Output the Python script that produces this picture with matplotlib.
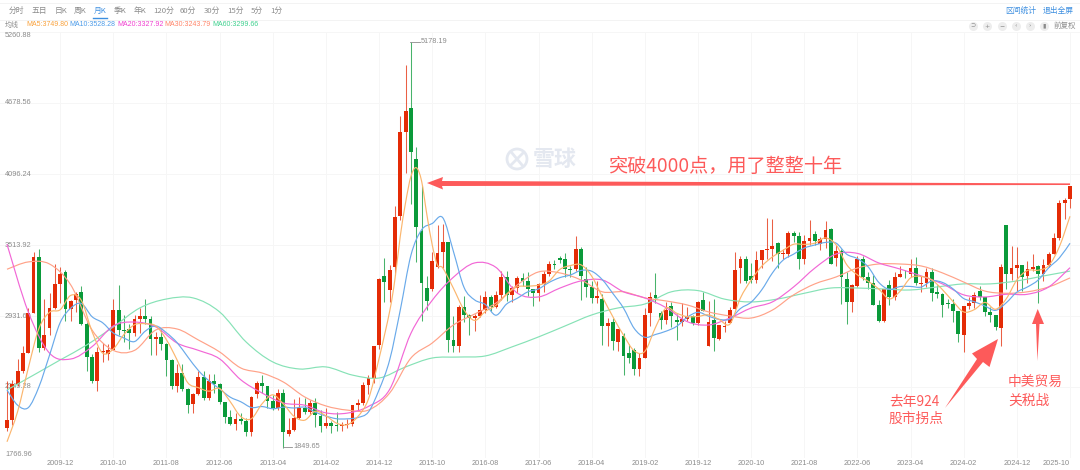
import numpy as np
import matplotlib
matplotlib.use("Agg")
import matplotlib.pyplot as plt
from matplotlib.patches import Polygon, Circle, PathPatch
from matplotlib.path import Path

plt.rcParams["font.family"] = ["Liberation Sans", "Noto Sans CJK SC", "DejaVu Sans"]
CJK = ["Noto Sans CJK SC", "DejaVu Sans"]

# monthly candles, 2009-02 .. 2025-10
opens = [
    2010, 2082, 2373, 2477, 2632, 2959, 3412, 2667, 2836, 2995,
    3195, 3289, 2989, 3060, 3125, 2870, 2592, 2398, 2637, 2622,
    2655, 2979, 2820, 2825, 2790, 2905, 2928, 2911, 2743, 2762,
    2701, 2567, 2359, 2468, 2333, 2212, 2292, 2428, 2262, 2396,
    2372, 2225, 2103, 2047, 2086, 2068, 1980, 2289, 2385, 2359,
    2236, 2177, 2300, 1965, 1994, 2098, 2174, 2141, 2220, 2112,
    2033, 2056, 2033, 2026, 2039, 2048, 2201, 2217, 2363, 2423,
    2694, 3258, 3148, 3333, 3748, 4441, 4640, 4220, 3628, 3160,
    3156, 3337, 3456, 3536, 2738, 2688, 3005, 2938, 2916, 2932,
    2979, 3085, 3004, 3100, 3250, 3103, 3159, 3241, 3222, 3154,
    3117, 3192, 3273, 3360, 3404, 3397, 3317, 3314, 3480, 3232,
    3168, 3082, 3075, 2847, 2882, 2720, 2769, 2630, 2650, 2497,
    2584, 2954, 3107, 2955, 2898, 3017, 2900, 2886, 2905, 2929,
    2876, 3066, 2685, 2899, 2742, 2840, 2874, 2991, 3325, 3395,
    3262, 3224, 3391, 3474, 3483, 3530, 3441, 3441, 3615, 3591,
    3397, 3544, 3608, 3520, 3563, 3649, 3407, 3462, 3232, 3047,
    3180, 3400, 3253, 3202, 3024, 2893, 3186, 3089, 3255, 3279,
    3272, 3323, 3195, 3205, 3291, 3125, 3110, 3036, 3029, 2972,
    2778, 3015, 3041, 3136, 3086, 2967, 2938, 2834, 3674, 3279,
    3326, 3351, 3262, 3320, 3345, 3279, 3347, 3444, 3573, 3857, 3890,
]
highs = [
    2402, 2403, 2579, 2688, 2998, 3454, 3478, 3068, 3123, 3361,
    3330, 3306, 3060, 3130, 3181, 2880, 2623, 2680, 2707, 2700,
    3071, 3186, 2940, 2862, 2940, 3000, 3067, 2935, 2797, 2826,
    2707, 2575, 2536, 2536, 2345, 2300, 2478, 2478, 2453, 2453,
    2382, 2227, 2158, 2134, 2133, 2092, 2276, 2398, 2444, 2360,
    2281, 2334, 2334, 2092, 2248, 2270, 2259, 2244, 2260, 2158,
    2177, 2074, 2146, 2062, 2088, 2202, 2249, 2391, 2450, 2683,
    3243, 3406, 3347, 3835, 4572, 4990, 5178.19, 4317, 4006, 3256,
    3457, 3678, 3684, 3538, 2934, 3018, 3097, 2952, 2945, 3100,
    3140, 3101, 3134, 3301, 3301, 3174, 3260, 3283, 3295, 3154,
    3200, 3302, 3379, 3391, 3426, 3450, 3338, 3587, 3495, 3334,
    3220, 3220, 3115, 2915, 2915, 2827, 2795, 2703, 2667, 2630,
    2997, 3129, 3288, 2970, 3044, 3048, 2945, 3042, 3003, 2936,
    3056, 3127, 3058, 3074, 2860, 2891, 3002, 3458, 3425, 3425,
    3364, 3466, 3475, 3732, 3731, 3537, 3481, 3625, 3629, 3620,
    3600, 3723, 3631, 3581, 3708, 3650, 3511, 3483, 3296, 3195,
    3424, 3424, 3290, 3264, 3065, 3155, 3226, 3290, 3340, 3310,
    3396, 3418, 3256, 3322, 3322, 3189, 3120, 3072, 3072, 2976,
    3015, 3090, 3125, 3174, 3090, 3004, 2939, 3358, 3674, 3509,
    3494, 3351, 3380, 3440, 3350, 3400, 3460, 3610, 3880, 3900, 3998,
]
lows = [
    1990, 2037, 2360, 2461, 2632, 2959, 2639, 2650, 2776, 2985,
    3039, 2890, 2890, 2966, 2861, 2481, 2382, 2319, 2558, 2573,
    2652, 2774, 2722, 2661, 2767, 2791, 2866, 2610, 2610, 2650,
    2437, 2331, 2307, 2319, 2134, 2132, 2283, 2242, 2242, 2300,
    2210, 2058, 2039, 1999, 2045, 1949, 1949, 2260, 2300, 2181,
    2161, 2164, 1849.65, 1950, 1990, 2086, 2127, 2125, 2024, 1984,
    2014, 1974, 1986, 1991, 2010, 2032, 2152, 2200, 2290, 2380,
    2660, 3049, 3049, 3265, 3715, 4105, 3847, 3373, 2890, 2983,
    3139, 3327, 3327, 2638, 2638, 2638, 2880, 2776, 2807, 2920,
    2960, 2969, 2997, 3064, 3056, 3044, 3124, 3180, 3095, 3017,
    3056, 3132, 3262, 3316, 3367, 3254, 3255, 3300, 3063, 3091,
    3041, 3041, 2691, 2684, 2653, 2644, 2449, 2549, 2449, 2440,
    2584, 2851, 3040, 2822, 2870, 2840, 2733, 2850, 2891, 2857,
    2857, 2970, 2685, 2646, 2735, 2797, 2872, 2991, 3204, 3202,
    3200, 3200, 3325, 3400, 3384, 3328, 3400, 3416, 3540, 3313,
    3355, 3510, 3515, 3470, 3490, 3357, 3344, 3030, 2867, 2961,
    3171, 3226, 3155, 3021, 2885, 2885, 3023, 3064, 3250, 3245,
    3250, 3186, 3126, 3167, 3054, 3079, 2923, 3000, 2882, 2720,
    2635, 2990, 2995, 3060, 2933, 2883, 2815, 2689, 3152, 3227,
    3140, 3137, 3205, 3300, 3040, 3220, 3330, 3440, 3555, 3730, 3815,
]
closes = [
    2082, 2373, 2477, 2632, 2959, 3412, 2667, 2779, 2995, 3195,
    3277, 2989, 3051, 3109, 2870, 2592, 2398, 2637, 2638, 2655,
    2979, 2820, 2808, 2790, 2905, 2928, 2911, 2743, 2762, 2701,
    2567, 2359, 2468, 2333, 2199, 2292, 2428, 2262, 2396, 2372,
    2225, 2103, 2047, 2086, 2068, 1980, 2269, 2385, 2359, 2236,
    2177, 2300, 1979, 1993, 2098, 2174, 2141, 2220, 2116, 2033,
    2056, 2033, 2026, 2039, 2048, 2201, 2217, 2363, 2420, 2682,
    3234, 3210, 3310, 3747, 4441, 4611, 4277, 3663, 3205, 3052,
    3382, 3445, 3539, 2737, 2687, 3003, 2938, 2916, 2929, 2979,
    3085, 3004, 3100, 3250, 3103, 3159, 3241, 3222, 3154, 3117,
    3192, 3273, 3360, 3348, 3393, 3317, 3307, 3480, 3259, 3168,
    3082, 3095, 2847, 2876, 2725, 2821, 2602, 2588, 2493, 2584,
    2940, 3090, 3078, 2898, 2978, 2932, 2886, 2905, 2929, 2871,
    3050, 2976, 2880, 2750, 2860, 2852, 2984, 3310, 3395, 3218,
    3224, 3391, 3473, 3483, 3509, 3441, 3446, 3615, 3591, 3397,
    3544, 3568, 3547, 3563, 3640, 3361, 3462, 3252, 3047, 3186,
    3398, 3253, 3202, 3024, 2893, 3151, 3089, 3255, 3279, 3272,
    3323, 3204, 3202, 3291, 3119, 3110, 3018, 3029, 2974, 2788,
    3015, 3041, 3104, 3086, 2967, 2938, 2842, 3336, 3279, 3326,
    3351, 3250, 3320, 3335, 3279, 3347, 3444, 3573, 3857, 3882, 3996,
]

# moving averages, read every few months
ma5_months = list(range(0, 72, 2)) + list(range(72, 82)) + list(range(82, 201, 2))
ma5 = [
    1900, 2148, 2504, 2829, 2962, 2983, 3101, 3059, 2804, 2627,
    2661, 2780, 2860, 2868, 2850, 2737, 2571, 2385, 2344, 2315,
    2337, 2229, 2106, 2090, 2212, 2285, 2210, 2109, 2077, 2150,
    2113, 2053, 2040, 2106, 2250, 2583,
    2971, 3237, 3588, 3864, 4077, 4148, 4039, 3762, 3516, 3349,
    3325, 3158, 2981, 2895, 2969, 3019, 3108, 3171, 3176, 3185,
    3219, 3313, 3345, 3351, 3259, 3090, 2925, 2774, 2646, 2641,
    2837, 2997, 2954, 2926, 2928, 2941, 2903, 2865, 3080, 3226,
    3340, 3416, 3470, 3520, 3519, 3529, 3572, 3515, 3352, 3269,
    3217, 3154, 3072, 3133, 3244, 3256, 3228, 3148, 3050, 2965,
    2984, 3043, 2987, 3072, 3227, 3305, 3307, 3345, 3500, 3749.80,
]
ma10_months = list(range(0, 201, 2))
ma10 = [
    2325, 2200, 2180, 2350, 2610, 2877, 2996, 3034, 2926, 2876,
    2792, 2751, 2722, 2807, 2850, 2794, 2713, 2597, 2485, 2400,
    2334, 2266, 2228, 2181, 2189, 2171, 2184, 2177, 2184, 2143,
    2111, 2089, 2088, 2099, 2144, 2326, 2572, 2982, 3430, 3638,
    3690, 3737, 3460, 3165, 3063, 3026, 2938, 3030, 3077, 3130,
    3154, 3207, 3246, 3268, 3305, 3299, 3230, 3116, 2996, 2830,
    2757, 2780, 2807, 2847, 2922, 2962, 2930, 2904, 2906, 2993,
    3045, 3146, 3284, 3389, 3439, 3489, 3514, 3535, 3529, 3438,
    3402, 3336, 3208, 3150, 3173, 3174, 3169, 3219, 3207, 3154,
    3075, 3049, 3013, 2978, 3040, 3127, 3170, 3226, 3327, 3408,
    3528.28,
]
ma20_months = list(range(0, 201, 4))
ma20 = [
    3520, 2965, 2627, 2579, 2680, 2850, 2882, 2842, 2710, 2650,
    2580, 2408, 2300, 2218, 2200, 2137, 2135, 2190, 2330, 2790,
    3060, 3250, 3367, 3330, 3120, 3088, 3160, 3219, 3227, 3130,
    3080, 3000, 2885, 2858, 2915, 2997, 3047, 3170, 3325, 3440,
    3445, 3367, 3317, 3260, 3195, 3105, 3088, 3110, 3110, 3170,
    3327.92,
]
ma30_months = list(range(0, 201, 4))
ma30 = [
    3315, 3375, 3358, 3186, 2817, 2650, 2650, 2817, 2825, 2735,
    2637, 2505, 2464, 2390, 2268, 2194, 2160, 2160, 2300, 2587,
    2710, 2858, 2948, 3038, 3186, 3293, 3285, 3227, 3130, 3130,
    3080, 3055, 3022, 2965, 2932, 2915, 2980, 3105, 3195, 3252,
    3325, 3358, 3358, 3342, 3285, 3210, 3136, 3118, 3130, 3170,
    3243.79,
]
ma60_months = list(range(0, 201, 5))
ma60 = [
    2325, 2447, 2571, 2694, 2842, 2998, 3071, 3080, 2965, 2718,
    2555, 2497, 2514, 2447, 2423, 2514, 2587, 2595, 2604, 2678,
    2760, 2850, 2940, 2998, 3030, 3130, 3140, 3070, 3047, 3071,
    3118, 3161, 3161, 3153, 3145, 3170, 3195, 3195, 3219, 3260,
    3299.66,
]

y_ticks = [1766.96, 2349.28, 2931.60, 3513.92, 4096.24, 4678.56, 5260.88]
x_ticks = list(range(10, 201, 10))
x_labels = [
    "2009-12", "2010-10", "2011-08", "2012-06", "2013-04", "2014-02", "2014-12",
    "2015-10", "2016-08", "2017-06", "2018-04", "2019-02", "2019-12", "2020-10",
    "2021-08", "2022-06", "2023-04", "2024-02", "2024-12", "2025-10",
]
periods = ["分时", "五日", "日K", "周K", "月K", "季K", "年K", "120分", "60分", "30分", "15分", "5分", "1分"]
period_x = [16, 39, 61, 80, 100, 120, 140, 164, 188, 212, 236, 257, 276]

RED = "#e42b06"
GREEN = "#0a9a3a"
NOTE = "#fd5a5a"
GRAY = "#8c8c8c"
BLUE = "#3d8fe0"
MARK = "#e4e8f0"


def smooth_line(ax, xs, ys, color):
    """Draw a curve through the read points, like the chart's smooth lines."""
    p = np.column_stack([xs, ys]).astype(float)
    verts = [p[0]]
    codes = [Path.MOVETO]
    for i in range(len(p) - 1):
        before = p[max(i - 1, 0)]
        after = p[min(i + 2, len(p) - 1)]
        verts += [p[i] + (p[i + 1] - before) / 6, p[i + 1] - (after - p[i]) / 6, p[i + 1]]
        codes += [Path.CURVE4] * 3
    ax.add_patch(PathPatch(Path(verts, codes), fc="none", ec=color, lw=0.85, zorder=4))


fig = plt.figure(figsize=(10.8, 4.7), dpi=100, facecolor="white")
ax = fig.add_axes([0, 12 / 470, 1, 426 / 470])
ax.set_xlim(-7 / 5.315, (1080 - 7) / 5.315)
ax.set_ylim(y_ticks[0], y_ticks[-1])
for s in ax.spines.values():
    s.set_visible(False)
ax.set_yticks(y_ticks)
ax.set_xticks(x_ticks)
ax.set_xticklabels(x_labels, fontsize=5.3, color=GRAY)
ax.tick_params(length=0, labelleft=False, pad=1.5)
ax.xaxis.get_ticklabels()[-1].set_ha("right")
ax.xaxis.get_ticklabels()[-1].set_x(202)
ax.grid(True, color="#f6f6f6", lw=0.7)
ax.set_axisbelow(True)

# overlay in pixel units, for the page furniture and hand-drawn notes
px = fig.add_axes([0, 0, 1, 1], zorder=5)
px.set_xlim(0, 1080)
px.set_ylim(470, 0)
px.axis("off")

# watermark
ax.add_patch(Circle((517, 159), 10, transform=px.transData, fill=False, ec=MARK, lw=2, zorder=1))
ax.plot([511, 523], [165, 153], color=MARK, lw=2, transform=px.transData, zorder=1)
ax.plot([512, 522], [153, 165], color=MARK, lw=2, transform=px.transData, zorder=1)
ax.text(555, 160, "雪球", transform=px.transData, family=CJK, fontsize=15.8, color=MARK,
        ha="center", va="center", fontweight="bold", zorder=1)

# y labels sit behind the candles
trans = ax.get_yaxis_transform()
for v in y_ticks:
    va = "center"
    if v == y_ticks[-1]:
        va = "top"
    if v == y_ticks[0]:
        va = "bottom"
    ax.text(5 / 1080, v, f"{v:.2f}", transform=trans, fontsize=5.3, color=GRAY, va=va, ha="left", zorder=1)

months = np.arange(len(closes))
o = np.array(opens)
h = np.array(highs)
l = np.array(lows)
c = np.array(closes)
up = c >= o
colors = np.where(up, RED, GREEN)

ax.vlines(months, l, h, colors=colors, lw=0.75, alpha=0.75, zorder=2)
body = np.maximum(np.abs(c - o), 8)
ax.bar(months, body, bottom=np.minimum(o, c), width=0.72, color=colors, lw=0, zorder=3)

smooth_line(ax, ma60_months, ma60, "#86e2b6")
smooth_line(ax, ma30_months, ma30, "#ffa288")
smooth_line(ax, ma20_months, ma20, "#f267d6")
smooth_line(ax, ma10_months, ma10, "#6aaaea")
smooth_line(ax, ma5_months, ma5, "#fbb66e")

# toolbar
px.plot([0, 1080], [3, 3], color="#f3f3f3", lw=0.7)
px.plot([0, 1080], [19.5, 19.5], color="#f3f3f3", lw=0.7)
for name, x in zip(periods, period_x):
    px.text(x, 10.5, name, family=CJK, fontsize=5.6, ha="center", va="center",
            color=BLUE if name == "月K" else GRAY)
px.plot([93, 107], [18, 18], color=BLUE, lw=1.0)
px.text(1021, 10.5, "区间统计", family=CJK, fontsize=5.6, color=BLUE, ha="center", va="center")
px.text(1058, 10.5, "退出全屏", family=CJK, fontsize=5.6, color=BLUE, ha="center", va="center")
px.text(1065, 25.5, "前复权", family=CJK, fontsize=5.4, color=GRAY, ha="center", va="center")
for x, g in zip([973, 987, 1002, 1016, 1030, 1044], ["⊃", "+", "−", "‹", "›", "▮"]):
    px.plot(x, 26, "o", ms=6.5, color="#ededed", mew=0)
    px.text(x, 26, g, fontsize=4.5, color="#8a8a8a", ha="center", va="center", family="DejaVu Sans")

# legend row
px.text(5, 24.5, "均线", family=CJK, fontsize=5, color=GRAY, va="center")
legend_items = [("MA5:3749.80", 26, "#f9a13b"), ("MA10:3528.28", 69, "#4c9be8"), ("MA20:3327.92", 117, "#f03fd0"),
                ("MA30:3243.79", 164, "#ff8468"), ("MA60:3299.66", 212, "#3ed08e")]
for label, x, col in legend_items:
    px.text(x, 24.5, label, fontsize=5.0, color=col, va="center")

# high / low callouts
px.plot([283, 292], [447, 447], color=GRAY, lw=0.6)
px.text(293, 447, "1849.65", fontsize=5.3, color=GRAY, va="center")
px.plot([410, 420], [41.5, 41.5], color=GRAY, lw=0.6)
px.text(421, 41.5, "5178.19", fontsize=5.3, color=GRAY, va="center")

# notes
px.add_patch(Polygon([(1070, 183.4), (442, 181), (443, 177), (427, 183), (443, 189.5), (442, 186), (1070, 185)],
                     closed=True, fc=NOTE, ec="none"))
px.add_patch(Polygon([(945, 408), (977, 359), (972, 353.5), (998, 339), (989.5, 367), (983, 362)],
                     closed=True, fc=NOTE, ec="none"))
px.add_patch(Polygon([(1037.4, 361), (1036, 324), (1032, 324), (1037.7, 309), (1044, 324), (1039.5, 324)],
                     closed=True, fc=NOTE, ec="none"))
px.text(609, 166, "突破4000点，用了整整十年", family=CJK, fontsize=13.8, color=NOTE, va="center", ha="left")
px.text(889, 402, "去年924", family=CJK, fontsize=9.9, color=NOTE, va="center", ha="left")
px.text(889, 419, "股市拐点", family=CJK, fontsize=9.9, color=NOTE, va="center", ha="left")
px.text(1008, 382, "中美贸易", family=CJK, fontsize=9.9, color=NOTE, va="center", ha="left")
px.text(1008, 401, "关税战", family=CJK, fontsize=9.9, color=NOTE, va="center", ha="left")

fig.savefig("out.png", dpi=100, facecolor="white")
